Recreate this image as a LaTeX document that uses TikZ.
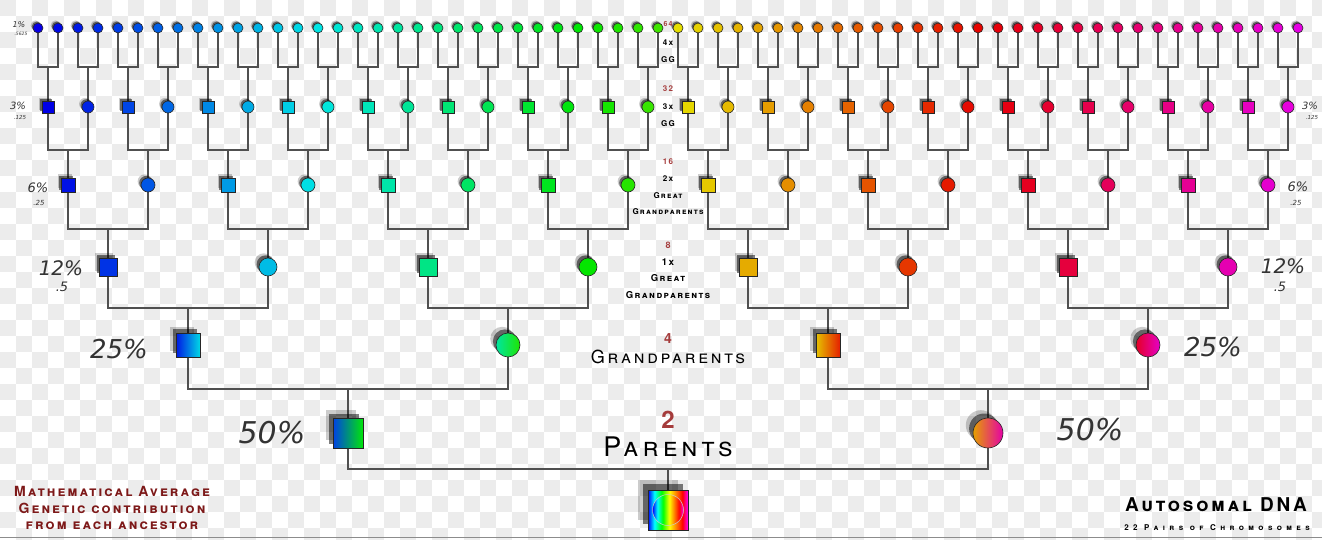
\PassOptionsToPackage{rgb}{xcolor}
\documentclass[tikz,border=0pt]{standalone}
\usepackage{fontspec}
\setmainfont{TeX Gyre Heros}
\newfontfamily\capsfont[LetterSpace=15]{TeX Gyre Heros}
\newfontfamily\widecaps[LetterSpace=55]{TeX Gyre Heros}
\newfontfamily\pctfont{DejaVu Sans}
\usetikzlibrary{shadows}

\definecolor{wirecol}{RGB}{80,80,80}
\definecolor{numred}{RGB}{165,60,60}
\definecolor{notered}{RGB}{125,25,25}
\definecolor{checker}{RGB}{236,236,236}

% colour of the line that starts at x
\newcommand\tintat[2]{%
  \pgfmathsetmacro\huev{mod(360+((#1<668)?(240-0.224*(#1-48)):(60-0.19*(#1-668))),360)}%
  \definecolor{hsbtmp}{Hsb}{\huev,1,0.9}%
  \colorlet{#2}[rgb]{hsbtmp}}

\pgfdeclarehorizontalshading{rainbow}{100bp}{color(0bp)=(blue); color(25bp)=(blue); color(33bp)=(cyan); color(42bp)=(green); color(52bp)=(yellow); color(60bp)=(orange); color(68bp)=(red); color(75bp)=(magenta); color(100bp)=(magenta)}

\pgfdeclarelayer{checks}
\pgfdeclarelayer{wires}
\pgfsetlayers{checks,wires,main}

\tikzset{
  ancestor/.style={draw=black!85, line width=0.6pt, inner sep=0pt, minimum size=#1,
    drop shadow={shadow xshift=-0.24pt*#1, shadow yshift=0.26pt*#1, fill=black, opacity=0.2},
    drop shadow={shadow xshift=-0.13pt*#1, shadow yshift=0.15pt*#1, fill=black, opacity=0.5}},
  wire/.style={draw=wirecol, line width=1.7pt},
  pct/.style={font=\pctfont\itshape\fontsize{#1}{#1}\selectfont, text=black!80, inner sep=0pt},
  gen/.style={font=\capsfont\bfseries\scshape\fontsize{#1}{#1}\selectfont, inner sep=0pt},
  genthin/.style={font=\capsfont\scshape\fontsize{#1}{#1}\selectfont, inner sep=0pt},
  gennum/.style={gen=#1, text=numred}
}

\begin{document}
\begin{tikzpicture}[x=1pt, y=-1pt]
\useasboundingbox (0,0) rectangle (1322,540);

% checker background
\begin{pgfonlayer}{checks}
  \foreach \r in {0,...,33} {
    \ifodd\r \def\ph{16pt}\else \def\ph{0pt}\fi
    \draw[draw=checker, line width=16pt, dash pattern=on 16pt off 16pt, dash phase=\ph]
      (0,16*\r+8) -- (1322,16*\r+8);
  }
  \draw[black!45, line width=1pt] (0,537) -- (1322,537);
\end{pgfonlayer}

% great grandparents and above
\foreach \lev/\yy/\sz in {6/28/10, 5/107/12, 4/185/14, 3/267/18} {
  \pgfmathtruncatemacro\last{2^\lev-1}
  \pgfmathsetmacro\gap{1280/2^\lev}
  \foreach \j in {0,...,\last} {
    \pgfmathsetmacro\xx{28+\gap*(\j+0.5)}
    \tintat{\xx}{tint}
    \ifodd\j \def\shp{circle}\else \def\shp{rectangle}\fi
    \ifnum\lev=6 \def\shp{circle}\fi
    \node[ancestor=\sz, shape=\shp, fill=tint] (g\lev-\j) at (\xx,\yy) {};
  }
}

% grandparents and parents
\foreach \lev/\yy/\sz in {2/345/24, 1/433/30} {
  \pgfmathtruncatemacro\last{2^\lev-1}
  \pgfmathsetmacro\gap{1280/2^\lev}
  \foreach \j in {0,...,\last} {
    \pgfmathsetmacro\xx{28+\gap*(\j+0.5)}
    \pgfmathsetmacro\xl{28+\gap*(\j+0.15)}
    \pgfmathsetmacro\xr{28+\gap*(\j+0.85)}
    \tintat{\xl}{tintL}
    \tintat{\xx}{tintM}
    \tintat{\xr}{tintR}
    \ifodd\j \def\shp{circle}\else \def\shp{rectangle}\fi
    \node[ancestor=\sz, shape=\shp, left color=tintL, middle color=tintM, right color=tintR] (g\lev-\j) at (\xx,\yy) {};
  }
}

% you
\node[ancestor=40, shape=rectangle, shade, shading=rainbow] (g0-0) at (668,510) {};
\node[circle, minimum size=31, inner sep=0pt, draw=white!80!black, line width=0.5pt, shade, shading=rainbow] (core) at (g0-0) {};

% family lines
\begin{pgfonlayer}{wires}
\foreach \lev/\by in {5/67, 4/150, 3/229, 2/308, 1/389, 0/469} {
  \pgfmathtruncatemacro\last{2^\lev-1}
  \pgfmathtruncatemacro\kid{\lev+1}
  \foreach \j in {0,...,\last} {
    \pgfmathtruncatemacro\ka{2*\j}
    \pgfmathtruncatemacro\kb{2*\j+1}
    \coordinate (k\lev-\j) at (g\lev-\j |- 0,\by);
    \draw[wire] (g\kid-\ka.center) |- (k\lev-\j) -| (g\kid-\kb.center);
    \draw[wire] (k\lev-\j) -- (g\lev-\j.center);
  }
}
\end{pgfonlayer}

% generation labels
\node[gennum=7] (n64) at (668,24) {64};
\node[gen=8] (x64) at (668,43) {4x};
\node[gen=8] (t64) at (668,60) {GG};
\node[gennum=8] (n32) at (668,89) {32};
\node[gen=8] (x32) at (668,107) {3x};
\node[gen=8] (t32) at (668,124) {GG};
\node[gennum=8] (n16) at (668,162) {16};
\node[gen=8] (x16) at (668,179) {2x};
\node[gen=8] (a16) at (668,196) {Great};
\node[gen=8] (b16) at (668,212) {Grandparents};
\node[gennum=9] (n8) at (668,245) {8};
\node[gen=9.5] (x8) at (668,262) {1x};
\node[gen=9.5] (a8) at (668,278) {Great};
\node[gen=9.5] (b8) at (668,295) {Grandparents};
\node[gennum=14] (n4) at (668,339) {4};
\node[genthin=18] (b4) at (668,357) {Grandparents};
\node[gennum=24] (n2) at (668,420) {2};
\node[genthin=27] (b2) at (668,447) {Parents};

% share of each ancestor
\node[pct=8] (pc1) at (19,25) {1\%};
\node[pct=4.5] (pd1) at (21,34) {.5625};
\node[pct=10] (pc3l) at (18,106) {3\%};
\node[pct=5.5] (pd3l) at (20,117) {.125};
\node[pct=10] (pc3r) at (1310,106) {3\%};
\node[pct=5.5] (pd3r) at (1312,117) {.125};
\node[pct=13] (pc6l) at (38,188) {6\%};
\node[pct=7] (pd6l) at (39,203) {.25};
\node[pct=13] (pc6r) at (1298,187) {6\%};
\node[pct=7] (pd6r) at (1296,203) {.25};
\node[pct=20] (pc12l) at (61,268) {12\%};
\node[pct=13] (pd12l) at (62,287) {.5};
\node[pct=20] (pc12r) at (1283,266) {12\%};
\node[pct=13] (pd12r) at (1280,287) {.5};
\node[pct=26] (pc25l) at (119,349) {25\%};
\node[pct=26] (pc25r) at (1213,347) {25\%};
\node[pct=30] (pc50l) at (272,433) {50\%};
\node[pct=30] (pc50r) at (1090,430) {50\%};

% notes
\node[font=\capsfont\bfseries\scshape\fontsize{14}{16.5}\selectfont, text=notered, align=center, inner sep=0pt] (note) at (112,508) {Mathematical Average\\Genetic contribution\\from each ancestor};
\node[font=\capsfont\bfseries\scshape\fontsize{19}{19}\selectfont, inner sep=0pt] (dna) at (1216,505) {Autosomal DNA};
\node[font=\widecaps\bfseries\scshape\fontsize{8}{8}\selectfont, inner sep=0pt] (pairs) at (1217,528) {22 Pairs of Chromosomes};
\end{tikzpicture}
\end{document}
